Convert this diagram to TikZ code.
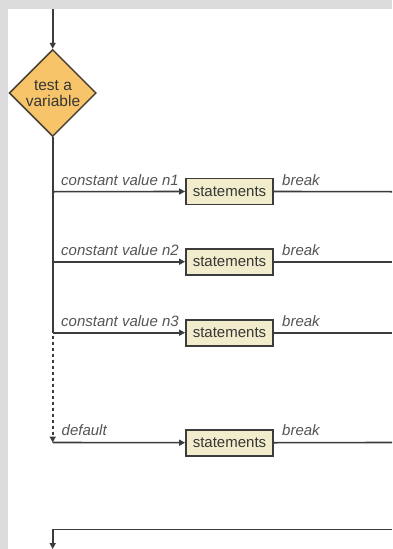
\documentclass[tikz,border=0pt]{standalone}
\usepackage{fontspec}
\setmainfont{Liberation Sans}
\usetikzlibrary{shapes.geometric,arrows.meta}
\definecolor{bggray}{HTML}{DCDCDC}
\definecolor{linec}{HTML}{3C3C3C}
\definecolor{diafill}{HTML}{F7C46A}
\definecolor{diaborder}{HTML}{4A4234}
\definecolor{boxfill}{HTML}{F1ECCB}
\definecolor{labelc}{HTML}{555555}
\definecolor{textc}{HTML}{363636}
\tikzset{
  conn/.style={draw=linec, line width=1.6pt},
  tip/.style={-{Triangle[length=6pt,width=6pt]}},
  arr/.style={conn, tip},
  stmt/.style={draw=linec, line width=1.8pt, fill=boxfill, minimum width=87pt,
    minimum height=26pt, inner sep=0pt, text=textc,
    font=\fontsize{15}{15}\selectfont},
  lbl/.style={anchor=base west, inner sep=0pt, text=labelc,
    font=\fontsize{15}{15}\selectfont\itshape},
  decision/.style={diamond, draw=diaborder, line width=1.5pt, fill=diafill,
    minimum width=87pt, minimum height=87pt, inner sep=0pt},
  dtext/.style={align=center, inner sep=0pt, text=textc,
    font=\fontsize{15.5}{15.5}\selectfont}
}
\begin{document}
\begin{tikzpicture}[x=1pt,y=-1pt]
\useasboundingbox (0,0) rectangle (392,549);
\fill[white] (0,0) rectangle (392,549);
\fill[bggray] (0,0) rectangle (392,9);
\fill[bggray] (0,0) rectangle (8,549);

% decision
\node[decision] (test) at (52.7,93) {};
\node[dtext] (testtxt) at (53,93.5) {test a\\variable};
\coordinate (start) at (52.7,9);
\draw[arr] (start) -- (test.north);

% junctions on main line
\coordinate (j1) at (52.7,191.7);
\coordinate (j2) at (52.7,261.7);
\coordinate (j3) at (52.7,332.7);
\coordinate (jd) at (52.7,442.5);

% statement boxes
\node[stmt] (s1) at (229.5,191.5) {statements};
\node[stmt] (s2) at (229.5,261.7) {statements};
\node[stmt] (s3) at (229.5,332.7) {statements};
\node[stmt] (s4) at (229.5,442.7) {statements};

% right ends
\coordinate (e1) at (392,191.7);
\coordinate (e2) at (392,261.7);
\coordinate (e3) at (392,332.7);
\coordinate (e4) at (392,442.5);

% main vertical
\draw[conn] (test.south) -- (j3);
\draw[conn, dash pattern=on 3pt off 3pt, dash phase=3pt, tip] (j3) -- (jd);

% branches
\draw[arr] (j1) -- (s1.west);
\draw[arr] (j2) -- (s2.west);
\draw[arr] (j3) -- (s3.west);
\draw[arr] (jd) -- (s4.west);
\draw[conn] (s1.east) -- (e1);
\draw[conn] (s2.east) -- (e2);
\draw[conn] (s3.east) -- (e3);
\draw[conn] (s4.east) -- (e4);

% labels
\node[lbl] (l1) at (61,185) {constant value n1};
\node[lbl] (l2) at (61,255) {constant value n2};
\node[lbl] (l3) at (61,326) {constant value n3};
\node[lbl] (ld) at (61.5,435.5) {default};
\node[lbl] (b1) at (282,185) {break};
\node[lbl] (b2) at (282,255) {break};
\node[lbl] (b3) at (282,326) {break};
\node[lbl] (b4) at (282,435.5) {break};

% bottom return
\coordinate (r1) at (392,529.3);
\coordinate (r2) at (52.7,529.3);
\coordinate (r3) at (52.7,549);
\draw[arr] (r1) -- (r2) -- (r3);
\end{tikzpicture}
\end{document}
